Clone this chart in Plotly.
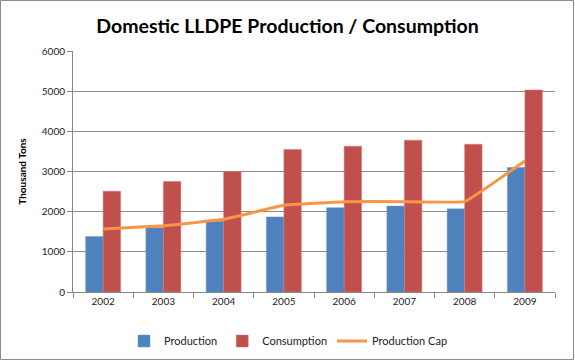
import plotly.graph_objects as go

years = ["2002", "2003", "2004", "2005", "2006", "2007", "2008", "2009"]
production = [1380, 1600, 1760, 1870, 2100, 2140, 2070, 3100]
consumption = [2510, 2750, 3000, 3550, 3630, 3780, 3680, 5030]
production_cap = [1570, 1650, 1810, 2160, 2250, 2250, 2250, 3260]

W, H = 575, 361
L, R, T, B = 73, 20, 51, 69
pw, ph = W - L - R, H - T - B

fig = go.Figure()
fig.add_trace(go.Bar(x=years, y=production, name="Production",
                     marker=dict(color="#4F81BD", line=dict(color="#6F9AD0", width=0.5))))
fig.add_trace(go.Bar(x=years, y=consumption, name="Consumption",
                     marker=dict(color="#C0504D", line=dict(color="#D87A77", width=0.5))))
fig.add_trace(go.Scatter(x=years, y=production_cap, name="Production Cap", mode="lines",
                         line=dict(color="#F79646", width=3, shape="spline", smoothing=0.2)))

font_family = "Lato, Open Sans, sans-serif"
fig.update_layout(
    width=W, height=H,
    margin=dict(l=L, r=R, t=T, b=B, autoexpand=False),
    paper_bgcolor="white", plot_bgcolor="white",
    barmode="group", bargap=0.42, bargroupgap=0,
    title=dict(text="<b>Domestic LLDPE Production / Consumption</b>",
               x=0.5, xanchor="center", yref="container", y=1 - 26 / H, yanchor="middle",
               font=dict(family=font_family, size=19.5, color="black")),
    font=dict(family=font_family, size=10, color="#222"),
    showlegend=True,
    legend=dict(orientation="h", x=(124 - L) / pw, xanchor="left", yref="container",
                y=1 - 341 / H, yanchor="middle", font=dict(size=11, color="#222"),
                traceorder="normal", itemwidth=30, tracegroupgap=0),
    xaxis=dict(type="category", showgrid=False, showline=True, linecolor="#868686",
               ticks="outside", ticklen=5, tickcolor="#868686", tickson="boundaries",
               tickfont=dict(size=10, color="#222"), automargin=False),
    yaxis=dict(range=[0, 6000], dtick=1000, showgrid=True, gridcolor="#8c8c8c",
               gridwidth=1, showline=True, linecolor="#868686", ticks="outside",
               ticklen=5, tickcolor="#868686", zeroline=False, automargin=False,
               tickfont=dict(size=10, color="#222"),
               title=dict(text="<b>Thousand Tons</b>", font=dict(size=10, color="black"),
                          standoff=13)),
    shapes=[dict(type="rect", xref="paper", yref="paper",
                 x0=-(L - 0.5) / pw, x1=1 + (R - 1.5) / pw,
                 y0=-(B - 1.5) / ph, y1=1 + (T - 0.5) / ph,
                 line=dict(color="#8c8c8c", width=1), layer="below")],
)

fig.write_html("out.html", config={"displayModeBar": False},
               post_script="document.body.style.margin='0';document.body.style.overflow='hidden';")
